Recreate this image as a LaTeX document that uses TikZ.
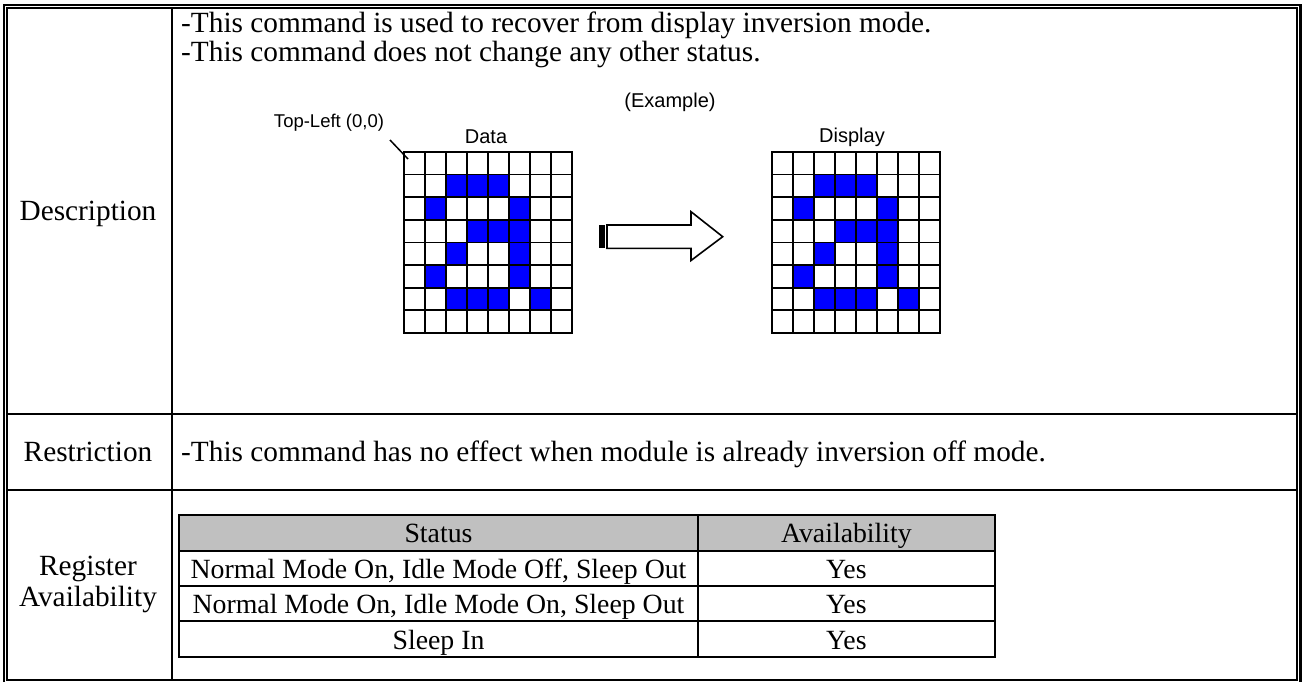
\documentclass[tikz,border=0pt]{standalone}
\usepackage{fontspec}
\setmainfont{Liberation Serif}
\newfontfamily\arialfont{Liberation Sans}
\definecolor{pixblue}{RGB}{0,0,255}
\definecolor{hdrgray}{RGB}{192,192,192}
\begin{document}
\begin{tikzpicture}[x=1pt,y=-1pt,
  serif/.style={font=\fontsize{29.3}{31}\selectfont, inner sep=0pt},
  tabtext/.style={font=\fontsize{27.8}{30}\selectfont, inner sep=0pt, anchor=base},
  sans/.style={font=\arialfont\fontsize{20}{22}\selectfont, inner sep=0pt},
  smallsans/.style={font=\arialfont\fontsize{18.5}{20}\selectfont, inner sep=0pt},
  rulethick/.style={line width=2pt},
  gridline/.style={line width=1.8pt, line cap=rect},
  tabline/.style={line width=2pt}]
\useasboundingbox (0,0) rectangle (1302,682);

% outer double border
\draw[line width=2.2pt] (4,5) rectangle (1300.5,690);
\draw[line width=2pt] (7,8) rectangle (1297,680);
% column and row rules
\draw[rulethick] (171.5,8) -- (171.5,680);
\draw[rulethick] (7,414) -- (1297,414);
\draw[rulethick] (7,490) -- (1297,490);

% left column labels
\node[serif, anchor=base] (desc) at (88,220) {Description};
\node[serif, anchor=base] (restr) at (88,461) {Restriction};
\node[serif, anchor=base] (reg) at (88,575) {Register};
\node[serif, anchor=base] (av) at (88,606) {Availability};

% description text
\node[serif, anchor=base west] (d1) at (181,33) {-This command is used to recover from display inversion mode.};
\node[serif, anchor=base west] (d2) at (181,62) {-This command does not change any other status.};

% example labels
\node[sans] (ex) at (670,102) {(Example)};
\node[smallsans] (tl) at (329,123) {Top-Left (0,0)};
\node[sans] (dt) at (486,137) {Data};
\node[sans] (dp) at (852,137) {Display};

% pixel grids
\foreach \gx in {404,772} {
  \begin{scope}[shift={(\gx,152)}]
    \foreach \r/\c in {1/2,1/3,1/4,2/1,2/5,3/3,3/4,3/5,4/2,4/5,5/1,5/5,6/2,6/3,6/4,6/6}
      \fill[pixblue] (\c*21,\r*22.6) rectangle ++(21,22.6);
    \foreach \i in {0,...,8} {
      \draw[gridline] (\i*21,0) -- (\i*21,180.8);
      \draw[gridline] (0,\i*22.6) -- (168,\i*22.6);
    }
  \end{scope}
}
\coordinate (tlstart) at (390,140);
\coordinate (tlend) at (408,159);
\draw[line width=1.5pt] (tlstart) -- (tlend);

% hollow arrow
\fill (599,225) rectangle (604.5,248.3);
\draw[line width=1.6pt, fill=white] (607,225) -- (691,225) -- (691,211.7) -- (722.7,236.7) -- (691,260.5) -- (691,248.3) -- (607,248.3) -- cycle;

% restriction text
\node[serif, anchor=base west] (rtext) at (181,461) {-This command has no effect when module is already inversion off mode.};

% availability table
\fill[hdrgray] (179.3,515) rectangle (995,551);
\draw[tabline] (179.3,515) rectangle (995,657);
\draw[tabline] (697.7,515) -- (697.7,657);
\foreach \y in {551,586,621} \draw[tabline] (179.3,\y) -- (995,\y);

\node[tabtext] (h1) at (438.5,542) {Status};
\node[tabtext] (h2) at (846.4,542) {Availability};
\node[tabtext] (s1) at (438.5,578) {Normal Mode On, Idle Mode Off, Sleep Out};
\node[tabtext] (a1) at (846.4,578) {Yes};
\node[tabtext] (s2) at (438.5,613) {Normal Mode On, Idle Mode On, Sleep Out};
\node[tabtext] (a2) at (846.4,613) {Yes};
\node[tabtext] (s3) at (438.5,649) {Sleep In};
\node[tabtext] (a3) at (846.4,649) {Yes};
\end{tikzpicture}
\end{document}
